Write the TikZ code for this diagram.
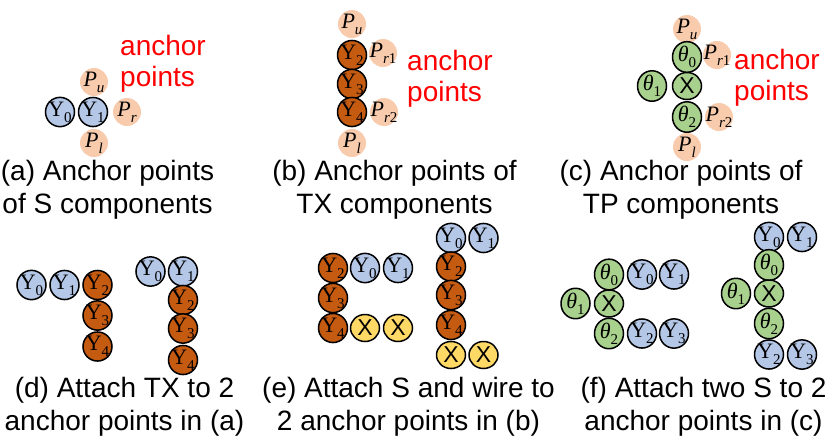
\documentclass[tikz,border=0pt]{standalone}
\usepackage[no-math]{fontspec}
\setmainfont{Liberation Sans}
\newfontfamily\symfont{Liberation Serif}
\usetikzlibrary{shapes.geometric}

\definecolor{sblue}{HTML}{B4C7E7}
\definecolor{txbrown}{HTML}{C55A11}
\definecolor{tpgreen}{HTML}{A9D18E}
\definecolor{wireyellow}{HTML}{FFD966}
\definecolor{apeach}{HTML}{F8CBAD}

% symbol with subscript, fixed zero width so the shape keeps its size
\newcommand{\lbl}[2]{\makebox[0pt]{\fontsize{22}{22}\selectfont\symfont #1\raisebox{-0.28em}{\fontsize{15}{15}\selectfont #2}}}
\newcommand{\xlbl}{\makebox[0pt]{\fontsize{23}{23}\selectfont X}}

\tikzset{
  unit/.style={ellipse, draw=black, line width=1.5pt, minimum width=29pt, minimum height=27pt, inner sep=0pt},
  sunit/.style={unit, fill=sblue},
  txunit/.style={unit, fill=txbrown},
  tpunit/.style={unit, fill=tpgreen},
  wunit/.style={unit, fill=wireyellow},
  apoint/.style={circle, fill=apeach, minimum size=28pt, inner sep=0pt},
  subcap/.style={align=center, inner sep=0pt, anchor=base, font=\fontsize{28}{33}\selectfont},
  redtag/.style={align=left, inner sep=0pt, anchor=base west, text=red, font=\fontsize{28}{31}\selectfont},
}

\begin{document}
\begin{tikzpicture}[x=1pt,y=-1pt]
        \useasboundingbox (0,0) rectangle (830,440);
        % (a) S component
        \node[apoint] (aPu) at (94,82) {\lbl{\itshape P}{u}};
        \node[apoint] (aPr) at (127,112) {\lbl{\itshape P}{r}};
        \node[apoint] (aPl) at (94,143) {\lbl{\itshape P}{l}};
        \node[sunit] (aY0) at (60,112) {\lbl{Y}{0}};
        \node[sunit] (aY1) at (93,112) {\lbl{Y}{1}};
        \node[redtag] (aTag) at (120,86) {anchor\\points};
        % (b) TX component
        \node[apoint] (bPu) at (352,24) {\lbl{\itshape P}{u}};
        \node[apoint] (bPr1) at (383,53) {\lbl{\itshape P}{r\upshape 1}};
        \node[apoint] (bPr2) at (384,112) {\lbl{\itshape P}{r\upshape 2}};
        \node[apoint] (bPl) at (352,143) {\lbl{\itshape P}{l}};
        \node[txunit] (bY2) at (352,55) {\lbl{Y}{2}};
        \node[txunit] (bY3) at (352,84) {\lbl{Y}{3}};
        \node[txunit] (bY4) at (352,112) {\lbl{Y}{4}};
        \node[redtag] (bTag) at (407,101) {anchor\\points};
        % (c) TP component
        \node[apoint] (cPu) at (687,29) {\lbl{\itshape P}{u}};
        \node[apoint] (cPr1) at (717,55) {\lbl{\itshape P}{r\upshape 1}};
        \node[apoint] (cPr2) at (719,117) {\lbl{\itshape P}{r\upshape 2}};
        \node[apoint] (cPl) at (687,147) {\lbl{\itshape P}{l}};
        \node[tpunit] (cT0) at (687,57) {\lbl{\itshape θ}{\upshape 0}};
        \node[tpunit] (cT1) at (652,86) {\lbl{\itshape θ}{\upshape 1}};
        \node[tpunit] (cX) at (687,86) {\xlbl};
        \node[tpunit] (cT2) at (687,117) {\lbl{\itshape θ}{\upshape 2}};
        \node[redtag] (cTag) at (734,100) {anchor\\points};
        % (d)
        \node[sunit] (dY0) at (31.5,285) {\lbl{Y}{0}};
        \node[sunit] (dY1) at (64.5,285) {\lbl{Y}{1}};
        \node[txunit] (dY2) at (97.5,285) {\lbl{Y}{2}};
        \node[txunit] (dY3) at (97.5,315.5) {\lbl{Y}{3}};
        \node[txunit] (dY4) at (97.5,346.5) {\lbl{Y}{4}};
        \node[sunit] (dZ0) at (150.5,271.5) {\lbl{Y}{0}};
        \node[sunit] (dZ1) at (183,271.5) {\lbl{Y}{1}};
        \node[txunit] (dZ2) at (183,300) {\lbl{Y}{2}};
        \node[txunit] (dZ3) at (183,328.5) {\lbl{Y}{3}};
        \node[txunit] (dZ4) at (183,360) {\lbl{Y}{4}};
        % (e)
        \node[txunit] (eY2) at (333,268) {\lbl{Y}{2}};
        \node[sunit] (eY0) at (365,268) {\lbl{Y}{0}};
        \node[sunit] (eY1) at (398,268) {\lbl{Y}{1}};
        \node[txunit] (eY3) at (333,298) {\lbl{Y}{3}};
        \node[txunit] (eY4) at (333,328) {\lbl{Y}{4}};
        \node[wunit] (eX1) at (365,328) {\xlbl};
        \node[wunit] (eX2) at (398,328) {\xlbl};
        \node[sunit] (eZ0) at (451,238) {\lbl{Y}{0}};
        \node[sunit] (eZ1) at (483.5,238) {\lbl{Y}{1}};
        \node[txunit] (eZ2) at (451,266.5) {\lbl{Y}{2}};
        \node[txunit] (eZ3) at (451,295) {\lbl{Y}{3}};
        \node[txunit] (eZ4) at (451,325) {\lbl{Y}{4}};
        \node[wunit] (eW1) at (451,355) {\xlbl};
        \node[wunit] (eW2) at (483.5,355) {\xlbl};
        % (f)
        \node[tpunit] (fT0) at (609,274.5) {\lbl{\itshape θ}{\upshape 0}};
        \node[sunit] (fY0) at (642,274.5) {\lbl{Y}{0}};
        \node[sunit] (fY1) at (674,274.5) {\lbl{Y}{1}};
        \node[tpunit] (fT1) at (575.5,303.5) {\lbl{\itshape θ}{\upshape 1}};
        \node[tpunit] (fX) at (609,303.5) {\xlbl};
        \node[tpunit] (fT2) at (609,333.5) {\lbl{\itshape θ}{\upshape 2}};
        \node[sunit] (fY2) at (642,333.5) {\lbl{Y}{2}};
        \node[sunit] (fY3) at (674,333.5) {\lbl{Y}{3}};
        \node[sunit] (fZ0) at (769,237) {\lbl{Y}{0}};
        \node[sunit] (fZ1) at (802,237) {\lbl{Y}{1}};
        \node[tpunit] (fS0) at (769,265) {\lbl{\itshape θ}{\upshape 0}};
        \node[tpunit] (fS1) at (736,293.5) {\lbl{\itshape θ}{\upshape 1}};
        \node[tpunit] (fW) at (769,293.5) {\xlbl};
        \node[tpunit] (fS2) at (769,323.5) {\lbl{\itshape θ}{\upshape 2}};
        \node[sunit] (fZ2) at (769,354.5) {\lbl{Y}{2}};
        \node[sunit] (fZ3) at (802,354.5) {\lbl{Y}{3}};
        % captions
        \node[subcap] (capA) at (107.5,213) {(a) Anchor points\\of S components};
        \node[subcap] (capB) at (394.5,213) {(b) Anchor points of\\TX components};
        \node[subcap] (capC) at (681,213) {(c) Anchor points of\\TP components};
        \node[subcap] (capD) at (124.5,430) {(d) Attach TX to 2\\anchor points in (a)};
        \node[subcap] (capE) at (408.5,430) {(e) Attach S and wire to\\2 anchor points in (b)};
        \node[subcap] (capF) at (703.5,430) {(f) Attach two S to 2\\anchor points in (c)};
\end{tikzpicture}
\end{document}
